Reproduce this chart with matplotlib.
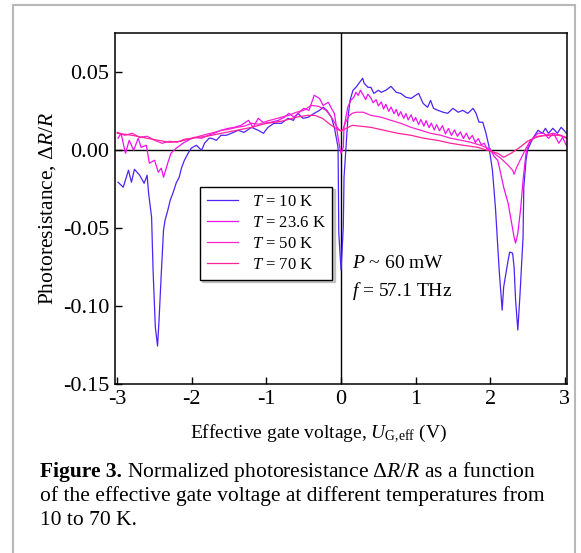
import numpy as np
import matplotlib
matplotlib.use('Agg')
import matplotlib.pyplot as plt
from matplotlib.lines import Line2D

plt.rcParams['font.family'] = ['Liberation Serif', 'DejaVu Serif']
plt.rcParams['mathtext.fontset'] = 'custom'
plt.rcParams['mathtext.rm'] = 'Liberation Serif'
plt.rcParams['mathtext.it'] = 'Liberation Serif:italic'
plt.rcParams['mathtext.bf'] = 'Liberation Serif:bold'

# (U_G,eff [V], dR/R)
t10 = np.array([
    [-2.99, -0.0205], [-2.92, -0.0237], [-2.85, -0.0128], [-2.81, -0.0205], [-2.77, -0.0122],
    [-2.70, -0.0160], [-2.64, -0.0212], [-2.60, -0.0160], [-2.58, -0.0276], [-2.54, -0.0430],
    [-2.52, -0.0770], [-2.49, -0.1135], [-2.46, -0.1256], [-2.44, -0.1090], [-2.41, -0.0790],
    [-2.38, -0.0513], [-2.36, -0.0450], [-2.32, -0.0380], [-2.29, -0.0320], [-2.25, -0.0270],
    [-2.21, -0.0210], [-2.17, -0.0173], [-2.14, -0.0115], [-2.10, -0.0064], [-2.05, -0.0019],
    [-2.01, 0.0013], [-1.94, 0.0032], [-1.87, 0.0000], [-1.83, 0.0045], [-1.77, 0.0077],
    [-1.74, 0.0077], [-1.67, 0.0064], [-1.61, 0.0096], [-1.54, 0.0096], [-1.47, 0.0109],
    [-1.38, 0.0128], [-1.30, 0.0115], [-1.20, 0.0147], [-1.11, 0.0128], [-1.04, 0.0109],
    [-0.98, 0.0147], [-0.90, 0.0173], [-0.80, 0.0173], [-0.71, 0.0205], [-0.64, 0.0192],
    [-0.58, 0.0237], [-0.51, 0.0205], [-0.44, 0.0212], [-0.36, 0.0237], [-0.29, 0.0256],
    [-0.24, 0.0276], [-0.19, 0.0256], [-0.13, 0.0212], [-0.09, 0.0147], [-0.04, 0.0019],
    [-0.03, -0.0532], [0.00, -0.0769], [0.03, -0.0494], [0.04, -0.0173], [0.07, 0.0045],
    [0.09, 0.0192], [0.12, 0.0320], [0.16, 0.0385], [0.20, 0.0404], [0.24, 0.0430],
    [0.29, 0.0462], [0.31, 0.0430], [0.36, 0.0404], [0.40, 0.0404], [0.44, 0.0365],
    [0.50, 0.0385], [0.54, 0.0372], [0.60, 0.0385], [0.67, 0.0410], [0.74, 0.0372],
    [0.80, 0.0365], [0.87, 0.0340], [0.94, 0.0333], [1.00, 0.0353], [1.04, 0.0365],
    [1.10, 0.0301], [1.16, 0.0276], [1.20, 0.0320], [1.24, 0.0269], [1.30, 0.0256],
    [1.37, 0.0244], [1.43, 0.0237], [1.50, 0.0269], [1.57, 0.0244], [1.63, 0.0256],
    [1.70, 0.0237], [1.77, 0.0269], [1.81, 0.0237], [1.85, 0.0180], [1.90, 0.0180],
    [1.94, 0.0115], [1.98, 0.0032], [2.03, -0.0130], [2.07, -0.0370], [2.12, -0.0769],
    [2.16, -0.1026], [2.18, -0.0878], [2.24, -0.0705], [2.26, -0.0654], [2.30, -0.0660],
    [2.32, -0.0750], [2.34, -0.0960], [2.37, -0.1154], [2.40, -0.0917], [2.44, -0.0558],
    [2.45, -0.0237], [2.48, -0.0064], [2.50, 0.0000], [2.54, 0.0045], [2.58, 0.0083],
    [2.64, 0.0128], [2.70, 0.0109], [2.74, 0.0141], [2.78, 0.0109], [2.84, 0.0141],
    [2.90, 0.0109], [2.95, 0.0147], [2.99, 0.0128], [3.02, 0.0109],
])

t23 = np.array([
    [-2.99, 0.0077], [-2.95, 0.0109], [-2.89, -0.0019], [-2.84, 0.0064], [-2.78, 0.0000],
    [-2.72, 0.0077], [-2.68, 0.0019], [-2.61, 0.0032], [-2.57, -0.0083], [-2.50, -0.0064],
    [-2.45, -0.0141], [-2.41, -0.0115], [-2.38, -0.0173], [-2.32, -0.0077], [-2.28, -0.0019],
    [-2.21, 0.0013], [-2.12, 0.0045], [-2.05, 0.0064], [-1.97, 0.0083], [-1.87, 0.0077],
    [-1.78, 0.0096], [-1.70, 0.0109], [-1.61, 0.0128], [-1.51, 0.0141], [-1.43, 0.0147],
    [-1.34, 0.0160], [-1.24, 0.0192], [-1.18, 0.0147], [-1.11, 0.0205], [-1.03, 0.0173],
    [-0.94, 0.0180], [-0.84, 0.0192], [-0.76, 0.0212], [-0.70, 0.0237], [-0.63, 0.0212],
    [-0.56, 0.0244], [-0.50, 0.0269], [-0.43, 0.0256], [-0.36, 0.0353], [-0.29, 0.0333],
    [-0.24, 0.0288], [-0.17, 0.0308], [-0.13, 0.0269], [-0.09, 0.0237], [-0.04, 0.0083],
    [-0.01, 0.0000], [0.00, -0.0019], [0.03, 0.0019], [0.04, 0.0147], [0.09, 0.0276],
    [0.13, 0.0320], [0.17, 0.0340], [0.20, 0.0372], [0.23, 0.0352], [0.26, 0.0385],
    [0.29, 0.0360], [0.33, 0.0325], [0.36, 0.0360], [0.40, 0.0335], [0.43, 0.0305],
    [0.47, 0.0325], [0.50, 0.0285], [0.54, 0.0310], [0.57, 0.0265], [0.60, 0.0295],
    [0.64, 0.0250], [0.67, 0.0278], [0.71, 0.0235], [0.74, 0.0262], [0.77, 0.0220],
    [0.80, 0.0248], [0.84, 0.0205], [0.87, 0.0235], [0.90, 0.0195], [0.94, 0.0228],
    [0.97, 0.0185], [1.00, 0.0210], [1.04, 0.0165], [1.07, 0.0198], [1.11, 0.0155],
    [1.14, 0.0190], [1.18, 0.0145], [1.21, 0.0175], [1.25, 0.0130], [1.28, 0.0165],
    [1.32, 0.0125], [1.36, 0.0158], [1.40, 0.0105], [1.44, 0.0140], [1.48, 0.0095],
    [1.52, 0.0130], [1.56, 0.0090], [1.60, 0.0118], [1.64, 0.0075], [1.68, 0.0110],
    [1.72, 0.0070], [1.76, 0.0095], [1.80, 0.0050], [1.84, 0.0075], [1.88, 0.0035],
    [1.92, 0.0045], [1.96, 0.0005], [2.00, 0.0010], [2.05, -0.0038], [2.10, -0.0064],
    [2.14, -0.0147], [2.18, -0.0237], [2.24, -0.0340], [2.28, -0.0449], [2.32, -0.0558],
    [2.34, -0.0596], [2.37, -0.0532], [2.41, -0.0365], [2.44, -0.0192], [2.48, -0.0019],
    [2.52, 0.0045], [2.57, 0.0077], [2.64, 0.0109], [2.72, 0.0109], [2.78, 0.0077],
    [2.85, 0.0109], [2.92, 0.0045], [2.97, 0.0083], [3.02, 0.0032],
])

t50 = np.array([
    [-3.00, 0.0115], [-2.90, 0.0096], [-2.80, 0.0109], [-2.70, 0.0083], [-2.60, 0.0090],
    [-2.50, 0.0064], [-2.40, 0.0045], [-2.30, 0.0058], [-2.20, 0.0051], [-2.10, 0.0071],
    [-2.00, 0.0077], [-1.90, 0.0090], [-1.80, 0.0103], [-1.70, 0.0115], [-1.60, 0.0128],
    [-1.50, 0.0135], [-1.40, 0.0147], [-1.30, 0.0154], [-1.20, 0.0173], [-1.10, 0.0167],
    [-1.00, 0.0186], [-0.90, 0.0199], [-0.80, 0.0212], [-0.70, 0.0224], [-0.60, 0.0244],
    [-0.50, 0.0256], [-0.40, 0.0288], [-0.30, 0.0282], [-0.20, 0.0256], [-0.12, 0.0205],
    [-0.06, 0.0154], [-0.02, 0.0128], [0.02, 0.0128], [0.05, 0.0167], [0.10, 0.0218],
    [0.15, 0.0237], [0.20, 0.0244], [0.30, 0.0244], [0.40, 0.0224], [0.54, 0.0212],
    [0.67, 0.0192], [0.80, 0.0173], [0.94, 0.0147], [1.07, 0.0128], [1.20, 0.0109],
    [1.34, 0.0096], [1.47, 0.0077], [1.61, 0.0064], [1.74, 0.0051], [1.87, 0.0032],
    [1.97, 0.0013], [2.05, -0.0019], [2.14, -0.0051], [2.24, -0.0096], [2.30, -0.0128],
    [2.32, -0.0154], [2.36, -0.0103], [2.42, -0.0045], [2.48, 0.0013], [2.54, 0.0064],
    [2.61, 0.0083], [2.72, 0.0096], [2.84, 0.0109], [2.95, 0.0096], [3.02, 0.0077],
])

t70 = np.array([
    [-3.00, 0.0109], [-2.80, 0.0096], [-2.60, 0.0077], [-2.45, 0.0064], [-2.30, 0.0051],
    [-2.15, 0.0058], [-2.00, 0.0077], [-1.80, 0.0090], [-1.60, 0.0109], [-1.40, 0.0128],
    [-1.20, 0.0147], [-1.00, 0.0173], [-0.80, 0.0186], [-0.60, 0.0212], [-0.45, 0.0224],
    [-0.35, 0.0224], [-0.25, 0.0205], [-0.15, 0.0167], [-0.07, 0.0141], [0.00, 0.0122],
    [0.07, 0.0141], [0.15, 0.0160], [0.27, 0.0154], [0.40, 0.0147], [0.58, 0.0128],
    [0.76, 0.0109], [0.94, 0.0096], [1.11, 0.0077], [1.29, 0.0064], [1.47, 0.0045],
    [1.64, 0.0032], [1.83, 0.0019], [1.96, 0.0000], [2.10, -0.0019], [2.18, -0.0045],
    [2.28, -0.0019], [2.38, 0.0013], [2.50, 0.0058], [2.64, 0.0090], [2.78, 0.0096],
    [2.92, 0.0096], [3.02, 0.0083],
])

series = [t10, t23, t50, t70]
labels = [r'$T$ = 10 K', r'$T$ = 23.6 K', r'$T$ = 50 K', r'$T$ = 70 K']
colors = ['#4f22f5', '#ee11ee', '#ff22cc', '#ff2299']

xticks = [-3, -2, -1, 0, 1, 2, 3]
yticks = [-0.15, -0.10, -0.05, 0.00, 0.05]

fig = plt.figure(figsize=(5.81, 5.53), dpi=100)
ax = fig.add_axes([0.198, 0.3056, 0.778, 0.634])

ax.axhline(0, color='k', lw=1, zorder=1)
ax.axvline(0, color='k', lw=1, zorder=1)
for d, lab, c in zip(series, labels, colors):
    ax.plot(d[:, 0], d[:, 1], color=c, lw=0.9, label=lab, zorder=2)

ax.set_xlim(-3.03, 3.03)
ax.set_ylim(-0.15, 0.075)
ax.set_xticks(xticks)
ax.set_xticklabels([str(v) for v in xticks])
ax.set_yticks(yticks)
ax.set_yticklabels(['%.2f' % v for v in yticks])
ax.tick_params(direction='in', length=5, width=1, labelsize=16, pad=4)
for s in ax.spines.values():
    s.set_linewidth(1.1)

ax.set_ylabel(r'Photoresistance, $\mathit{\Delta R/R}$', fontsize=15.5, labelpad=4)
ax.set_xlabel(r'Effective gate voltage, $U_{\mathrm{G{,}eff}}$ (V)', fontsize=14)
ax.xaxis.set_label_coords(0.449, -0.111)

leg = ax.legend(loc='upper left', bbox_to_anchor=(0.188, 0.561), borderaxespad=0,
                fontsize=12, handlelength=1.9, labelspacing=0.3, frameon=True,
                fancybox=False, edgecolor='k', framealpha=1,
                shadow={'ox': 1.5, 'oy': -1.5, 'shade': 0.4})
leg.get_frame().set_linewidth(1)

ax.text(0.524, 0.330, r'$P$ ~ 60 mW', transform=ax.transAxes, fontsize=14, va='baseline')
ax.text(0.524, 0.251, r'$f$ = 57.1 THz', transform=ax.transAxes, fontsize=14, va='baseline')

# grey page frame
fc = '#b8b8b8'
fig.add_artist(Line2D([0.0224, 0.0224], [0, 0.991], transform=fig.transFigure, color=fc, lw=1.5))
fig.add_artist(Line2D([0.0224, 0.9897], [0.991, 0.991], transform=fig.transFigure, color=fc, lw=1.5))
fig.add_artist(Line2D([0.9897, 0.9897], [0, 0.991], transform=fig.transFigure, color=fc, lw=1.5))

# caption
cfs = 15.5
cx = 40 / 581
base = [1 - 477 / 553, 1 - 501 / 553, 1 - 525 / 553]
renderer = fig.canvas.get_renderer()
t1 = fig.text(cx, base[0], 'Figure 3.', fontsize=cfs, fontweight='bold', va='baseline')
bb = t1.get_window_extent(renderer)
fig.text(bb.x1 / fig.bbox.width + 0.008, base[0],
         r'Normalized photoresistance $\Delta R/R$ as a function', fontsize=cfs, va='baseline')
fig.text(cx, base[1], 'of the effective gate voltage at different temperatures from',
         fontsize=cfs, va='baseline')
fig.text(cx, base[2], '10 to 70 K.', fontsize=cfs, va='baseline')

fig.savefig('out.png', dpi=100)
